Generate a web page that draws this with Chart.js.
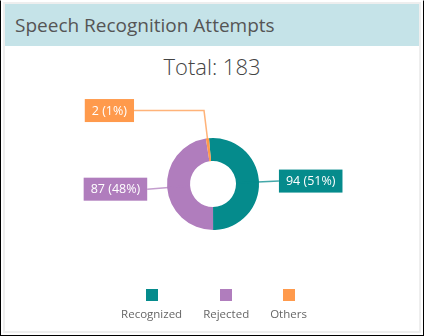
<!DOCTYPE html>
<html>
<head>
<meta charset="utf-8">
<script src="https://cdn.jsdelivr.net/npm/chart.js@4.4.1/dist/chart.umd.min.js"></script>
<style>
  html, body { margin: 0; padding: 0; background: #fff; }
  #frame {
    position: relative; width: 424px; height: 336px; box-sizing: border-box;
    border: 1px solid #000; border-top-color: #fff; overflow: hidden;
    font-family: "Open Sans", sans-serif;
  }
  #panel {
    position: absolute; left: 2px; top: 1px; right: 2px; bottom: 2px;
    border: 2px solid #eeeeee;
  }
  #header {
    position: absolute; left: 0; top: 0; right: 0; height: 42px;
    background: #c5e3e8; color: #555;
    font-size: 19px; line-height: 43px; padding-left: 10px;
  }
  #total {
    position: absolute; left: 0; right: 0; top: 50px; text-align: center;
    font-size: 22px; font-weight: 300; color: #444;
  }
  #chart { position: absolute; left: 0; top: 0; }
</style>
</head>
<body>
<div id="frame">
  <div id="panel">
    <div id="header">Speech Recognition Attempts</div>
  </div>
  <div id="total"></div>
  <canvas id="chart" width="424" height="336"></canvas>
</div>
<script>
const labels = ["Recognized", "Rejected", "Others"];
const values = [94, 87, 2];
const colors = ["#058b8c", "#b07dbd", "#ff9a4c"];

const total = values.reduce((sum, v) => sum + v, 0);
document.getElementById("total").textContent = `Total: ${total}`;

function getPercent(value) {
  return Math.round((value / Math.max(total, 1)) * 100);
}

const calloutPlugin = {
  id: "callouts",
  afterDatasetsDraw(chart) {
    const { ctx } = chart;
    const meta = chart.getDatasetMeta(0);
    ctx.save();
    ctx.font = "12.5px 'Open Sans', sans-serif";
    ctx.textBaseline = "middle";

    meta.data.forEach((arc, index) => {
      const { x, y, innerRadius, outerRadius, startAngle, endAngle } = arc.getProps(
        ["x", "y", "innerRadius", "outerRadius", "startAngle", "endAngle"], true);
      const mid = (startAngle + endAngle) / 2;
      const cos = Math.cos(mid);
      const sin = Math.sin(mid);
      const nearTop = Math.abs(sin) > 0.8;
      const reach = outerRadius + (nearTop ? 28 : 20);
      const x0 = x + cos * innerRadius;
      const y0 = y + sin * innerRadius;
      const x1 = x + cos * reach;
      const y1 = y + sin * reach;
      const left = cos < 0;
      const x2 = nearTop ? x1 + (left ? -70 : 70) : x1;

      const text = `${values[index]} (${getPercent(values[index])}%)`;
      const w = ctx.measureText(text).width + 14;
      const h = 23;
      const bx = left ? x2 - w : x2;
      const by = y1 - h / 2;

      ctx.strokeStyle = colors[index];
      ctx.globalAlpha = 0.75;
      ctx.lineWidth = 1.5;
      ctx.beginPath();
      ctx.moveTo(x0, y0);
      ctx.lineTo(x1, y1);
      ctx.lineTo(x2, y1);
      ctx.stroke();
      ctx.globalAlpha = 1;

      ctx.fillStyle = colors[index];
      ctx.fillRect(bx, by, w, h);
      ctx.fillStyle = "#ffffff";
      ctx.textAlign = "center";
      ctx.fillText(text, bx + w / 2, y1 + 0.5);
    });

    // legend: swatch above each label
    ctx.font = "11.5px 'Open Sans', sans-serif";
    ctx.textBaseline = "alphabetic";
    const gap = 21;
    const widths = labels.map((l) => ctx.measureText(l).width);
    const full = widths.reduce((s, w) => s + w, 0) + gap * (labels.length - 1);
    let lx = 213 - full / 2;
    labels.forEach((label, index) => {
      const cx = lx + widths[index] / 2;
      ctx.fillStyle = colors[index];
      ctx.fillRect(Math.round(cx - 6), 288, 12, 12);
      ctx.fillStyle = "#666";
      ctx.textAlign = "center";
      ctx.fillText(label, cx, 317);
      lx += widths[index] + gap;
    });
    ctx.restore();
  },
};

new Chart(document.getElementById("chart"), {
  type: "doughnut",
  data: {
    labels,
    datasets: [{
      data: values,
      backgroundColor: colors,
      borderWidth: 0,
    }],
  },
  options: {
    responsive: false,
    animation: false,
    rotation: -5,
    cutout: "50%",
    layout: { padding: { left: 166, right: 166, top: 137, bottom: 107 } },
    plugins: {
      legend: { display: false },
      tooltip: { enabled: false },
    },
  },
  plugins: [calloutPlugin],
});
</script>
</body>
</html>
